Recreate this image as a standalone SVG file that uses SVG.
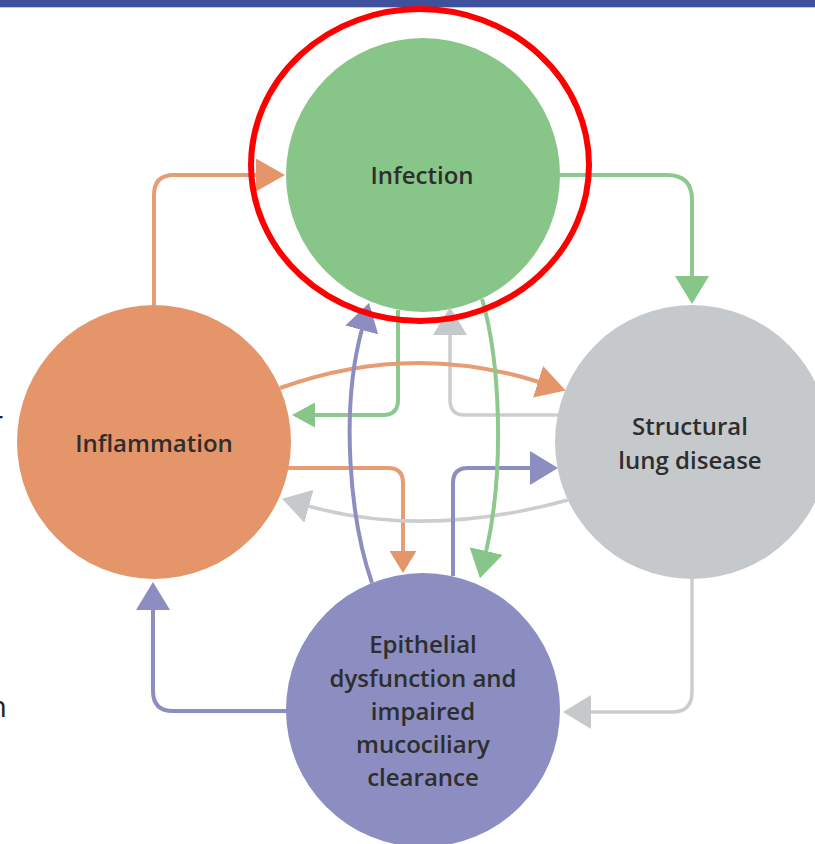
<svg xmlns="http://www.w3.org/2000/svg" width="815" height="844" viewBox="0 0 815 844">
  <style>
    .label { font-family: "Open Sans", "Liberation Sans", sans-serif; font-size: 24px; font-weight: 600; fill: #2e2e2e; text-anchor: middle; }
    .edge-text { font-family: "Open Sans", "Liberation Sans", sans-serif; font-size: 30px; fill: #222; text-anchor: end; }
    .c { fill: none; stroke-width: 4; stroke-linecap: butt; stroke-linejoin: round; }
    .green { stroke: #8dc98e; }
    .orange { stroke: #e69d73; }
    .gray { stroke: #cbced0; stroke-width: 3.5; }
    .purple { stroke: #8d8ec0; }
  </style>
  <defs>
    <marker id="ah-green" viewBox="0 0 28 34" refX="1" refY="17" markerWidth="28" markerHeight="34" markerUnits="userSpaceOnUse" orient="auto">
      <path d="M0,0L28,17L0,34Z" fill="#88c589"/>
    </marker>
    <marker id="ah-green-s" viewBox="0 0 23 25" refX="1" refY="12.5" markerWidth="23" markerHeight="25" markerUnits="userSpaceOnUse" orient="auto">
      <path d="M0,0L23,12.5L0,25Z" fill="#88c589"/>
    </marker>
    <marker id="ah-orange" viewBox="0 0 29 33" refX="1" refY="16.5" markerWidth="29" markerHeight="33" markerUnits="userSpaceOnUse" orient="auto">
      <path d="M0,0L29,16.5L0,33Z" fill="#e5956a"/>
    </marker>
    <marker id="ah-orange-s" viewBox="0 0 22 27" refX="1" refY="13.5" markerWidth="22" markerHeight="27" markerUnits="userSpaceOnUse" orient="auto">
      <path d="M0,0L22,13.5L0,27Z" fill="#e5956a"/>
    </marker>
    <marker id="ah-gray" viewBox="0 0 28 34" refX="1" refY="17" markerWidth="28" markerHeight="34" markerUnits="userSpaceOnUse" orient="auto">
      <path d="M0,0L28,17L0,34Z" fill="#c6c9cc"/>
    </marker>
    <marker id="ah-purple" viewBox="0 0 28 34" refX="1" refY="17" markerWidth="28" markerHeight="34" markerUnits="userSpaceOnUse" orient="auto">
      <path d="M0,0L28,17L0,34Z" fill="#8c8dc0"/>
    </marker>
  </defs>

  <rect width="815" height="844" fill="#ffffff"/>

  <!-- header band -->
  <rect x="0" y="0" width="815" height="7" fill="#3e519d"/>
  <rect x="0" y="7" width="815" height="1" fill="#c3c8de"/>

  <!-- clipped text at the left margin -->
  <text class="edge-text" x="3" y="432">r</text>
  <text class="edge-text" x="7" y="717">n</text>

  <g id="node-infection">
    <circle cx="423" cy="175" r="137" fill="#88c589"/>
    <text class="label" x="422" y="184">Infection</text>
  </g>

  <g id="node-inflammation">
    <circle cx="154" cy="442" r="137" fill="#e5956a"/>
    <text class="label" x="154" y="452">Inflammation</text>
  </g>

  <g id="node-structural">
    <circle cx="692" cy="442" r="137" fill="#c6c9cc"/>
    <text class="label" x="690" y="435">Structural</text>
    <text class="label" x="690" y="469">lung disease</text>
  </g>

  <g id="node-epithelial">
    <circle cx="423" cy="710" r="137" fill="#8c8dc0"/>
    <text class="label" x="423" y="653">Epithelial</text>
    <text class="label" x="423" y="687">dysfunction and</text>
    <text class="label" x="423" y="720">impaired</text>
    <text class="label" x="423" y="753">mucociliary</text>
    <text class="label" x="423" y="786">clearance</text>
  </g>

  <g id="connectors">
    <!-- inflammation -> infection -->
    <path class="c orange" d="M154,305 V195 Q154,175 174,175 H257" marker-end="url(#ah-orange)"/>
    <!-- infection -> structural lung disease -->
    <path class="c green" d="M560,175 H667 Q692,175 692,200 V277" marker-end="url(#ah-green)"/>
    <!-- infection -> inflammation -->
    <path class="c green" d="M398,310 V400 Q398,415 383,415 H314" marker-end="url(#ah-green-s)"/>
    <!-- structural lung disease -> infection -->
    <path class="c gray" d="M558,415 H465 Q450,415 450,400 V334" marker-end="url(#ah-gray)"/>
    <!-- inflammation -> structural lung disease (arc) -->
    <path class="c orange" d="M280,388 Q410,341 539,382" marker-end="url(#ah-orange)"/>
    <!-- inflammation -> epithelial -->
    <path class="c orange" d="M288,468 H388 Q403,468 403,483 V552" marker-end="url(#ah-orange-s)"/>
    <!-- structural lung disease -> inflammation (arc) -->
    <path class="c gray" d="M568,500 Q426,539 308,506" marker-end="url(#ah-gray)"/>
    <!-- epithelial -> structural lung disease -->
    <path class="c purple" d="M453,576 V483 Q453,468 468,468 H531" marker-end="url(#ah-purple)"/>
    <!-- infection -> epithelial (curve) -->
    <path class="c green" d="M482,299 C500,360 505,470 486,552" marker-end="url(#ah-green)"/>
    <!-- epithelial -> infection (curve) -->
    <path class="c purple" d="M372,583 C350,520 340,410 362,329" marker-end="url(#ah-purple)"/>
    <!-- epithelial -> inflammation -->
    <path class="c purple" d="M287,711 H173 Q153,711 153,691 V609" marker-end="url(#ah-purple)"/>
    <!-- structural lung disease -> epithelial -->
    <path class="c gray" d="M692,579 V692 Q692,712 672,712 H590" marker-end="url(#ah-gray)"/>
  </g>

  <!-- highlight ring around the infection node -->
  <ellipse cx="420" cy="165" rx="169" ry="156" fill="none" stroke="#ff0000" stroke-width="6"/>
</svg>
